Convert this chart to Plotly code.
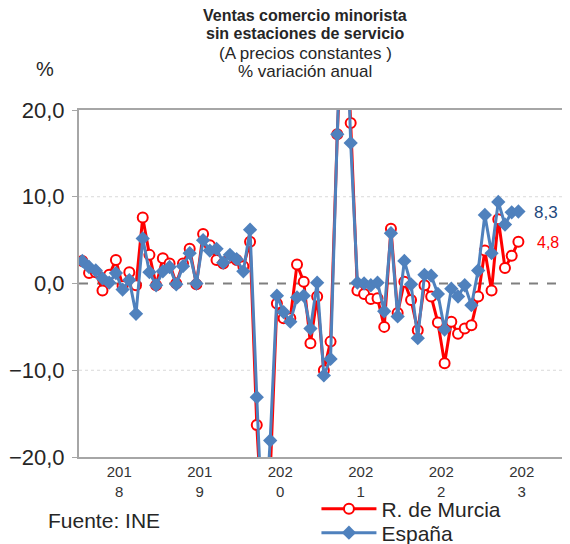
import plotly.graph_objects as go

months = list(range(72))  # Jan 2018 .. Dec 2023
year_ticks = ["201<br>8", "201<br>9", "202<br>0", "202<br>1", "202<br>2", "202<br>3"]
grid_levels = [-10, 10]

murcia = [2.6, 1.2, 1.3, -0.8, 1.0, 2.7, -0.3, 1.3, -0.2, 7.6, 3.3, -0.2,
          2.9, 2.3, 0.0, 2.3, 4.0, -0.1, 5.7, 4.4, 2.7, 2.3, 3.0, 2.7,
          2.0, 4.8, -16.3, -30.0, -22.0, -2.3, -4.0, -4.0, 2.2, 0.2, -6.9, -1.5,
          -10.0, -6.7, 17.2, 35.0, 18.5, -0.8, -1.2, -1.8, -1.7, -5.0, 6.3, -3.4,
          0.2, -1.9, -5.4, -0.2, -1.5, -4.5, -9.2, -4.4, -5.8, -5.2, -4.8, -1.5,
          3.8, -0.8, 7.4, 1.8, 3.2, 4.8]
espana = [2.6, 1.9, 1.5, 0.6, 0.1, 1.2, -0.7, 0.4, -3.5, 5.2, 1.3, -0.2,
          1.4, 1.9, -0.1, 2.0, 3.5, 0.0, 5.0, 3.8, 4.0, 2.4, 3.3, 2.8,
          1.4, 6.2, -13.1, -31.0, -18.1, -1.4, -3.3, -4.4, -1.6, -1.4, -5.2, 0.1,
          -10.6, -8.7, 17.2, 40.0, 16.2, 0.1, 0.0, -0.2, 0.1, -3.2, 5.8, -3.8,
          2.6, -0.1, -6.3, 1.0, 0.9, -1.2, -5.3, -0.6, -1.5, -0.2, -2.5, 1.5,
          7.9, 3.5, 9.4, 6.8, 8.2, 8.3]

x_m = months[:len(murcia)]
x_e = months[:len(espana)]
tick_pos = [5.5 + 12 * k for k in range(len(year_ticks))]

FONT = "Liberation Sans, Arial, sans-serif"
RED = "#FF0000"
BLUE = "#4F81BD"
TXT = "#262626"

fig = go.Figure()
fig.add_trace(go.Scatter(
    x=x_m, y=murcia, name="R. de Murcia", mode="lines+markers", legend="legend",
    line=dict(color=RED, width=3),
    marker=dict(symbol="circle", size=10, color="white", line=dict(color=RED, width=2)),
))
fig.add_trace(go.Scatter(
    x=x_e, y=espana, name="España", mode="lines+markers", legend="legend2",
    line=dict(color=BLUE, width=3),
    marker=dict(symbol="diamond", size=11, color=BLUE, line=dict(color=BLUE, width=0)),
))

for g in grid_levels:
    fig.add_shape(type="line", xref="paper", yref="y", x0=0, x1=1, y0=g, y1=g,
                  line=dict(color="#D9D9D9", width=1, dash="dot"), layer="below")
fig.add_shape(type="line", xref="paper", yref="y", x0=0, x1=1, y0=0, y1=0,
              line=dict(color="#7F7F7F", width=1.8, dash="dash"), layer="below")

leg_common = dict(xanchor="left", yanchor="middle", bgcolor="rgba(0,0,0,0)",
                  font=dict(size=21, family=FONT, color=TXT), itemwidth=55)

# page body has an 8px margin: figure is offset by (8, 8) in the window
fig.update_layout(
    width=562, height=536,
    margin=dict(l=71, r=8, t=102, b=87, autoexpand=False),
    paper_bgcolor="white", plot_bgcolor="white",
    separators=",.",
    font=dict(family=FONT, color=TXT),
    showlegend=True,
    legend=dict(x=0.4916, y=(457 - 509) / 347, **leg_common),
    legend2=dict(x=0.4916, y=(457 - 533) / 347, **leg_common),
    xaxis=dict(range=[-0.5, 71.5], tickmode="array", tickvals=tick_pos, ticktext=year_ticks,
               ticks="", showgrid=False, zeroline=False,
               showline=True, mirror=True, linecolor="#A6A6A6", linewidth=2,
               tickfont=dict(size=15, family=FONT, color="#333333")),
    yaxis=dict(range=[-20, 20], dtick=10, tickformat=".1f",
               ticks="outside", ticklen=5, tickcolor="#A6A6A6", ticklabelstandoff=3,
               showgrid=False, zeroline=False,
               showline=True, mirror=True, linecolor="#A6A6A6", linewidth=2,
               tickfont=dict(size=22, family=FONT, color=TXT)),
)

title_lines = [("<b>Ventas comercio minorista</b>", 16, 16),
               ("<b>sin estaciones de servicio</b>", 16, 34),
               ("(A precios constantes )", 17, 53),
               ("% variación anual", 17, 71)]
for txt, sz, py in title_lines:
    fig.add_annotation(xref="paper", yref="paper", x=(305 - 79) / 483, y=(457 - py) / 347,
                       xanchor="center", yanchor="middle", text=txt, showarrow=False,
                       borderpad=0, font=dict(size=sz, family=FONT, color=TXT))
fig.add_annotation(xref="paper", yref="paper", x=-0.07, y=1.118, xanchor="center", yanchor="middle",
                   text="%", showarrow=False, font=dict(size=20, family=FONT, color=TXT))
fig.add_annotation(xref="paper", yref="paper", x=0.052, y=-0.182, xanchor="center", yanchor="middle",
                   text="Fuente: INE", showarrow=False, font=dict(size=21, family=FONT, color=TXT))
fig.add_annotation(xref="x", yref="y", x=x_e[-1], y=espana[-1], xshift=28, yshift=-1,
                   text=f"{espana[-1]:.1f}".replace(".", ","), showarrow=False,
                   font=dict(size=17, family=FONT, color="#1F497D"))
fig.add_annotation(xref="x", yref="y", x=x_m[-1], y=murcia[-1], xshift=30, yshift=-1,
                   text=f"{murcia[-1]:.1f}".replace(".", ","), showarrow=False,
                   font=dict(size=16, family=FONT, color=RED))

fig.write_html("out.html")
